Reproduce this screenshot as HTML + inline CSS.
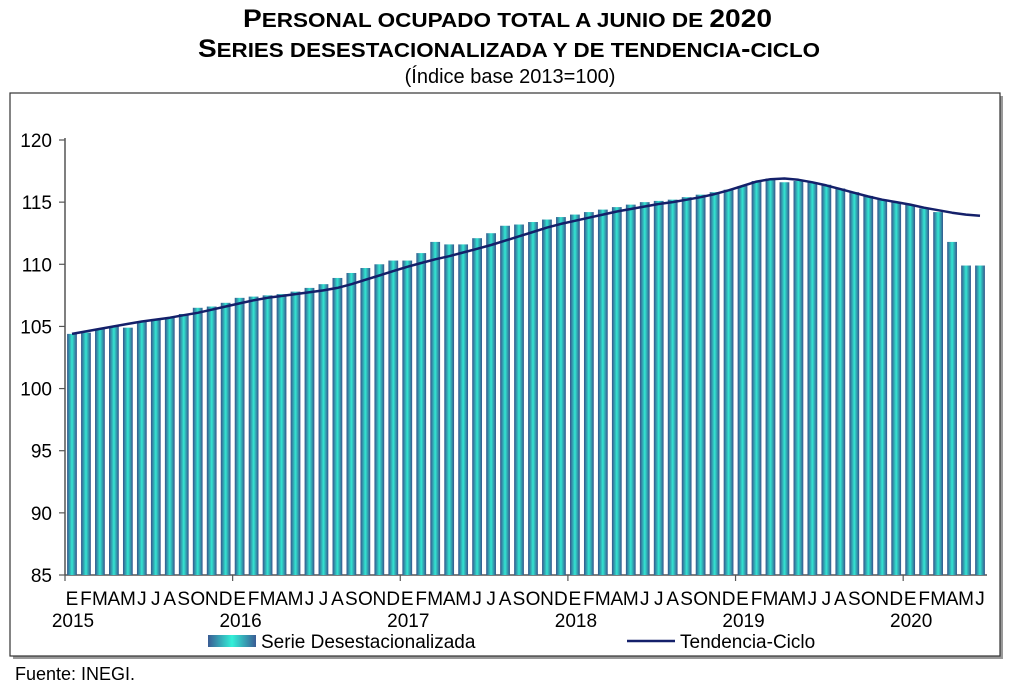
<!DOCTYPE html>
<html><head><meta charset="utf-8"><style>
body{margin:0;background:#fff;width:1024px;height:687px;overflow:hidden;font-family:"Liberation Sans",Arial,sans-serif}
</style></head><body>
<svg id="chart" width="1024" height="687" xmlns="http://www.w3.org/2000/svg" font-family="Liberation Sans, Arial, sans-serif">
<defs>
<linearGradient id="bg" x1="0" x2="1" y1="0" y2="0">
<stop offset="0" stop-color="#34558c"/><stop offset="0.5" stop-color="#33e6d2"/><stop offset="1" stop-color="#34558c"/>
</linearGradient>
<linearGradient id="lg" x1="0" x2="1" y1="0" y2="0">
<stop offset="0" stop-color="#3a5c94"/><stop offset="0.5" stop-color="#33f0d8"/><stop offset="1" stop-color="#3a5c94"/>
</linearGradient>
</defs>
<text x="243" y="27" textLength="529" lengthAdjust="spacingAndGlyphs" font-size="25" font-weight="bold">P<tspan font-size="20">ERSONAL OCUPADO TOTAL A JUNIO DE </tspan>2020</text>
<text x="198" y="57" textLength="622" lengthAdjust="spacingAndGlyphs" font-size="25" font-weight="bold">S<tspan font-size="20">ERIES DESESTACIONALIZADA Y DE TENDENCIA</tspan>-<tspan font-size="20">CICLO</tspan></text>
<text x="510" y="83" text-anchor="middle" font-size="20">(Índice base 2013=100)</text>
<rect x="13" y="96" width="990" height="563" fill="#999"/>
<rect x="10" y="93" width="990" height="563" fill="#fff" stroke="#333" stroke-width="1.2"/>
<g id="plot"></g>
<rect x="208" y="635" width="48" height="12" fill="url(#lg)"/>
<text x="261" y="648" font-size="19">Serie Desestacionalizada</text>
<line x1="627" y1="641" x2="675" y2="641" stroke="#14206a" stroke-width="2.5"/>
<text x="680" y="648" font-size="19">Tendencia-Ciclo</text>
<text x="15" y="680" font-size="18">Fuente: INEGI.</text>
</svg>
<script>
const months = ["E","F","M","A","M","J","J","A","S","O","N","D"];
const years = ["2015","2016","2017","2018","2019","2020"];
const yTicks = [85,90,95,100,105,110,115,120];
const seriesBars = [104.4,104.5,104.8,105.0,104.9,105.4,105.6,105.7,106.0,106.5,106.6,106.9,
107.3,107.4,107.5,107.6,107.8,108.1,108.4,108.9,109.3,109.7,110.0,110.3,
110.3,110.9,111.8,111.6,111.6,112.1,112.5,113.1,113.2,113.4,113.6,113.8,
114.0,114.2,114.4,114.6,114.8,115.0,115.1,115.2,115.4,115.6,115.8,116.0,
116.3,116.7,116.9,116.6,116.7,116.6,116.4,116.1,115.8,115.5,115.2,115.0,
114.8,114.5,114.2,111.8,109.9,109.9];
const seriesTrend = [104.4,104.6,104.8,105.0,105.2,105.4,105.55,105.7,105.9,106.1,106.35,106.6,
106.85,107.1,107.3,107.45,107.6,107.75,107.9,108.1,108.4,108.75,109.1,109.45,
109.8,110.1,110.4,110.65,110.95,111.25,111.55,111.9,112.25,112.6,112.95,113.25,
113.5,113.75,114.0,114.25,114.45,114.65,114.85,115.0,115.2,115.4,115.65,115.95,
116.3,116.65,116.85,116.9,116.8,116.6,116.35,116.05,115.75,115.45,115.2,115.0,
114.8,114.55,114.35,114.15,114.0,113.9];
const NS="http://www.w3.org/2000/svg";
const g=document.getElementById('plot');
const x0=65,x1=987,y0=575,y1=140,vmin=85,vmax=120;
const n=seriesBars.length;
const step=(x1-x0)/n;
function xs(i){return x0+step*(i+0.5);}
function ys(v){return y0-(v-vmin)/(vmax-vmin)*(y0-y1);}
function mk(t,a){const e=document.createElementNS(NS,t);for(const k in a)e.setAttribute(k,a[k]);g.appendChild(e);return e;}
let ax=mk('line',{x1:x0,y1:y1-2,x2:x0,y2:y0,stroke:'#555','stroke-width':1.5});


let bx=mk('line',{x1:x0,y1:y0,x2:x1,y2:y0,stroke:'#555','stroke-width':1.5});


yTicks.forEach(v=>{
 const y=ys(v);
 mk('line',{x1:x0-6,y1:y,x2:x0,y2:y,stroke:'#555','stroke-width':1.2});
 const t=mk('text',{x:x0-13,y:y+7,'text-anchor':'end','font-size':19});
 t.textContent=v;
 
 
});
for(let k=0;k<=years.length;k++){
 const x=x0+step*12*k;
 mk('line',{x1:x,y1:y0,x2:x,y2:y0+6,stroke:'#555','stroke-width':1.2});
}
seriesBars.forEach((v,i)=>{
 const bw=step*0.7;
 const r=mk('rect',{x:xs(i)-bw/2,y:ys(v),width:bw,height:y0-ys(v),fill:'url(#bg)'});
 
 
 const t=mk('text',{x:xs(i),y:605,'text-anchor':'middle','font-size':19});
 t.textContent=months[i%12];
 
 
});
years.forEach((yv,k)=>{
 const t=mk('text',{x:x0+step*12*k+8,y:627,'text-anchor':'middle','font-size':19});
 t.textContent=yv;
 
 
});
let d='';
seriesTrend.forEach((v,i)=>{d+=(i?'L':'M')+xs(i).toFixed(1)+' '+ys(v).toFixed(1);});
const p=mk('path',{d:d,fill:'none',stroke:'#14206a','stroke-width':2.5,'stroke-linejoin':'round'});


</script>
</body></html>
